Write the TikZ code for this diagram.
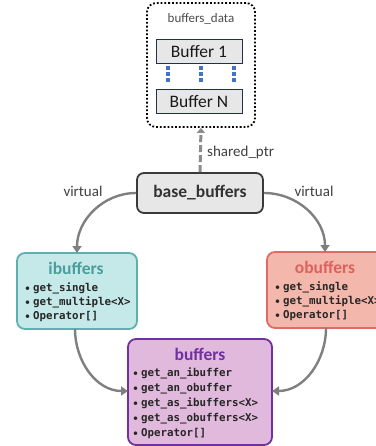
\documentclass[tikz,border=0pt]{standalone}
\usepackage{fontspec}
\setmainfont{Carlito}
\newfontfamily\codefont{DejaVu Sans Mono}
\usetikzlibrary{arrows.meta}

\definecolor{linegray}{HTML}{7F7F7F}
\definecolor{basefill}{HTML}{E7E7E7}
\definecolor{baseline}{HTML}{3A3A3A}
\definecolor{bufline}{HTML}{22304D}
\definecolor{dotblue}{HTML}{4472C4}
\definecolor{ifill}{HTML}{C5E9E9}
\definecolor{iline}{HTML}{5EAFAF}
\definecolor{ititle}{HTML}{4C9E9E}
\definecolor{ofill}{HTML}{F4B7AC}
\definecolor{oline}{HTML}{E06A66}
\definecolor{otitle}{HTML}{DD625E}
\definecolor{bfill}{HTML}{E1B9DC}
\definecolor{bline}{HTML}{7030A0}
\definecolor{codetext}{HTML}{262626}

\tikzset{
  flow/.style={draw=linegray, line width=2.4pt, -{Triangle[length=7pt,width=9pt]}},
  classbox/.style={rounded corners=8pt, line width=1.8pt, minimum width=#1},
  bufbox/.style={draw=bufline, fill=basefill, line width=1pt, minimum width=86pt,
    minimum height=24pt, inner sep=0pt, font=\fontsize{17.5}{20}\selectfont, text=black!90},
  title/.style={font=\bfseries\fontsize{17.5}{20}\selectfont, inner sep=0pt},
  items/.style={anchor=north west, align=left, inner sep=0pt, text=codetext,
    font=\codefont\bfseries\fontsize{10.8}{#1}\selectfont},
  plain/.style={font=\fontsize{15}{18}\selectfont, text=black!75, inner sep=0pt}
}
\newcommand{\itm}{\makebox[8pt][l]{\normalfont\fontsize{10}{10}\selectfont•}}

\begin{document}
\begin{tikzpicture}[x=1pt,y=1pt]
\useasboundingbox (0,0) rectangle (375,-446);

% shared data block
\node[draw=black, dotted, line width=1.8pt, rounded corners=9pt,
      minimum width=108pt, minimum height=124pt] (data) at (201,-65) {};
\node[font=\fontsize{13}{15}\selectfont, text=black!70, inner sep=0pt] (dtitle) at (201,-19) {buffers\_data};
\node[bufbox] (buf1) at (199,-51.5) {Buffer 1};
\node[bufbox] (bufN) at (199,-101.5) {Buffer N};
\foreach \x/\n in {168/a,201/b,234/c}{
  \coordinate (dt\n) at (\x,-66.5);
  \coordinate (db\n) at (\x,-83);
  \draw[dotblue, line width=3.2pt, dash pattern=on 3.5pt off 2.5pt] (dt\n) -- (db\n);
}

% base class
\node[draw=baseline, fill=basefill, rounded corners=7pt, line width=1.8pt,
      minimum width=126pt, minimum height=40pt, font=\bfseries\fontsize{17.5}{20}\selectfont,
      text=black!80] (base) at (200,-193) {base\_buffers};

\draw[draw=linegray!90, line width=3pt, dash pattern=on 7pt off 3pt,
      -{Triangle[length=5pt,width=8pt]}] (base.north) -- (data.south);
\node[plain, anchor=west] (sp) at (207,-153) {shared\_ptr};

% derived classes
\node[classbox=120pt, draw=iline, fill=ifill, minimum height=76pt] (ib) at (77,-291) {};
\node[title, text=ititle] (ibt) at (76,-268) {ibuffers};
\node[items=13.8] (ibi) at (25,-283)
  {\itm get\_single\\ \itm get\_multiple<X>\\ \itm Operator[]};

\node[classbox=120pt, draw=oline, fill=ofill, minimum height=76pt] (ob) at (327,-290) {};
\node[title, text=otitle] (obt) at (325,-267) {obuffers};
\node[items=13.8] (obi) at (275,-282)
  {\itm get\_single\\ \itm get\_multiple<X>\\ \itm Operator[]};

\node[classbox=144pt, draw=bline, fill=bfill, minimum height=106pt] (bf) at (200,-392) {};
\node[title, text=bline] (bft) at (200,-354) {buffers};
\node[items=14.8] (bfi) at (133,-368)
  {\itm get\_an\_ibuffer\\ \itm get\_an\_obuffer\\ \itm get\_as\_ibuffers<X>\\
   \itm get\_as\_obuffers<X>\\ \itm Operator[]};

% inheritance arrows
\coordinate (ibtop) at (77,-253);
\coordinate (obtop) at (325,-252);
\coordinate (ibbot) at (75,-329);
\coordinate (obbot) at (326,-328);
\coordinate (bfl) at (128,-391);
\coordinate (bfr) at (272,-391);
\draw[flow] (base.west) to[out=180,in=90] (ibtop);
\draw[flow] (base.east) to[out=0,in=90] (obtop);
\draw[flow] (ibbot) to[out=-90,in=180] (bfl);
\draw[flow] (obbot) to[out=-90,in=0] (bfr);

\node[plain] (vl) at (83,-191) {virtual};
\node[plain] (vr) at (314,-191) {virtual};
\end{tikzpicture}
\end{document}
